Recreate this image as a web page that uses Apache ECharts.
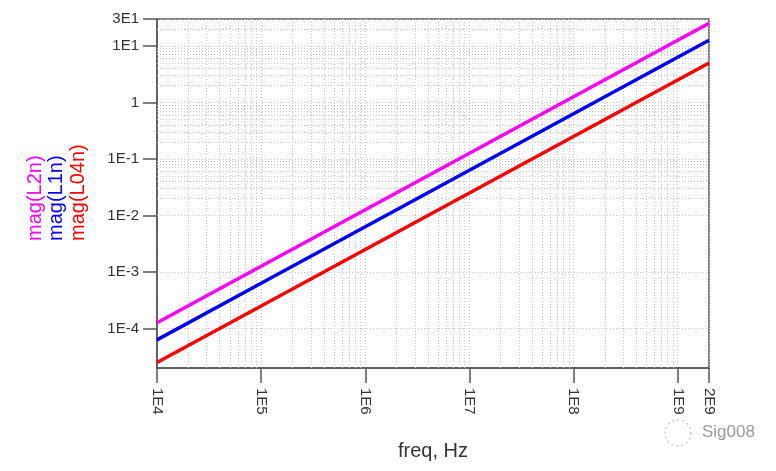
<!DOCTYPE html>
<html>
<head>
<meta charset="utf-8">
<script src="https://cdn.jsdelivr.net/npm/echarts@6/dist/echarts.min.js"></script>
<style>
  html, body { margin: 0; padding: 0; background: #fff; }
  #chart { width: 776px; height: 471px; }
</style>
</head>
<body>
<div id="chart"></div>
<script>
// --- data ---
const freq = [1e4, 1e5, 1e6, 1e7, 1e8, 1e9, 2e9];
const magL2n = [1.26e-4, 1.26e-3, 1.26e-2, 0.126, 1.26, 12.6, 25.1];
const magL1n = [6.3e-5, 6.3e-4, 6.3e-3, 0.063, 0.63, 6.3, 12.6];
const magL04n = [2.5e-5, 2.5e-4, 2.5e-3, 0.025, 0.25, 2.5, 5.0];

const seriesNames = ['mag(L2n)', 'mag(L1n)', 'mag(L04n)'];
const seriesColors = ['#ff00ff', '#0000ff', '#ff0000'];

const xMin = 1e4, xMax = 2e9;
const yMin = 2e-5, yMax = 30;

// minor grid positions (2..9 in each decade)
const xMinor = [];
for (let d = 1e4; d < xMax; d *= 10) {
  for (let m = 2; m <= 9; m++) if (d * m < xMax) xMinor.push(d * m);
}
const yMinor = [];
for (let d = 1e-5; d < yMax; d *= 10) {
  for (let m = 2; m <= 9; m++) if (d * m > yMin && d * m < yMax) yMinor.push(d * m);
}

// 1E4 style labels
const fmtE = (v) => {
  const e = Math.floor(Math.log10(v) + 1e-9);
  const m = Math.round(v / Math.pow(10, e));
  if (e === 0 && m === 1) return '1';
  return m + 'E' + e;
};

const pairs = (ys) => freq.map((f, i) => [f, ys[i]]);

const chart = echarts.init(document.getElementById('chart'));

const gridLine = { color: '#c6c6c6', width: 1, type: [1, 2] };

const option = {
  animation: false,
  grid: {
    left: 157, right: 67, top: 19, bottom: 103,
    show: true, borderColor: '#555', borderWidth: 1.5
  },
  xAxis: {
    type: 'log',
    min: xMin, max: xMax,
    name: 'freq, Hz',
    nameLocation: 'middle',
    nameGap: 73,
    nameTextStyle: { color: '#333', fontSize: 20, fontFamily: 'Liberation Sans' },
    axisLine: { lineStyle: { color: '#555', width: 1.5 } },
    axisTick: { length: 15, lineStyle: { color: '#555', width: 1.5 } },
    axisLabel: {
      rotate: -90, margin: 20, color: '#333', fontSize: 15,
      fontFamily: 'Liberation Sans', formatter: fmtE,
      showMinLabel: true, showMaxLabel: true
    },
    splitLine: { show: true, lineStyle: gridLine }
  },
  yAxis: {
    type: 'log',
    min: yMin, max: yMax,
    axisLine: { lineStyle: { color: '#555', width: 1.5 } },
    axisTick: { length: 14, lineStyle: { color: '#555', width: 1.5 } },
    axisLabel: {
      margin: 18, color: '#333', fontSize: 15,
      fontFamily: 'Liberation Sans', formatter: fmtE,
      showMinLabel: false, showMaxLabel: true
    },
    splitLine: { show: true, lineStyle: gridLine }
  },
  series: [
    {
      type: 'line', name: 'grid', data: [], silent: true,
      markLine: {
        silent: true, symbol: 'none', animation: false,
        label: { show: false },
        lineStyle: gridLine,
        data: xMinor.map(v => ({ xAxis: v })).concat(yMinor.map(v => ({ yAxis: v })))
      }
    },
    { type: 'line', name: seriesNames[0], data: pairs(magL2n), showSymbol: false,
      lineStyle: { color: seriesColors[0], width: 3.5 }, z: 5 },
    { type: 'line', name: seriesNames[1], data: pairs(magL1n), showSymbol: false,
      lineStyle: { color: seriesColors[1], width: 3.5 }, z: 5 },
    { type: 'line', name: seriesNames[2], data: pairs(magL04n), showSymbol: false,
      lineStyle: { color: seriesColors[2], width: 3.5 }, z: 5 }
  ],
  graphic: [
    ...seriesNames.map((n, i) => ({
      type: 'text',
      x: 35 + i * 21.5, y: 241,
      rotation: Math.PI / 2,
      style: {
        text: n, fill: seriesColors[i], fontSize: 20,
        fontFamily: 'Liberation Sans', align: 'left', verticalAlign: 'middle'
      }
    })),
    {
      type: 'text', x: 702, y: 432,
      style: { text: 'Sig008', fill: '#999', fontSize: 17,
        fontFamily: 'Liberation Sans', align: 'left', verticalAlign: 'middle' }
    },
    {
      type: 'circle', shape: { cx: 678, cy: 433, r: 13 },
      style: { fill: 'none', stroke: '#ccc', lineWidth: 1.5, lineDash: [2, 3] }
    }
  ]
};

chart.setOption(option);
</script>
</body>
</html>
